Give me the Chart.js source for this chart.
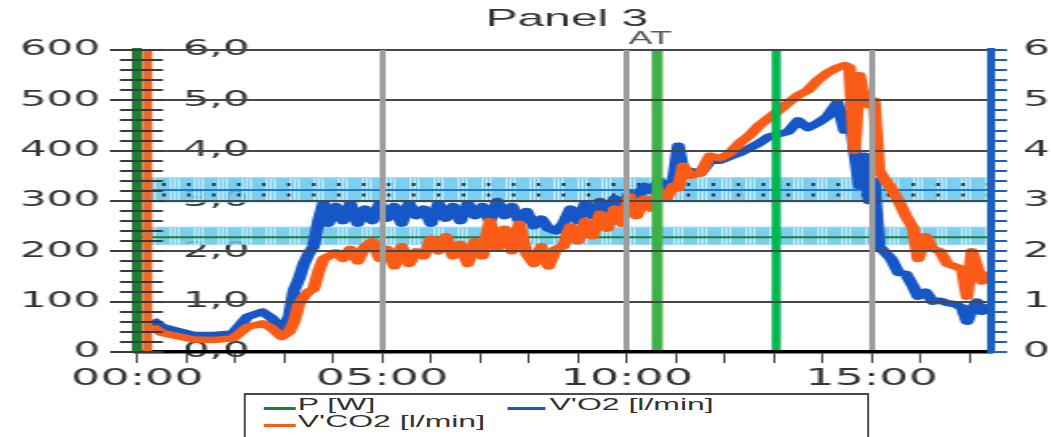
<!DOCTYPE html>
<html>
<head>
<meta charset="utf-8">
<script src="https://cdn.jsdelivr.net/npm/chart.js@4.4.1/dist/chart.umd.min.js"></script>
<style>
  body { margin: 0; background: #fff; overflow: hidden; }
  /* the whole panel is drawn at half width and stretched, like the original picture */
  #stage { position: relative; width: 526px; height: 437px; transform: scaleX(1.9981); transform-origin: 0 0; }
  #panel3 { display: block; }
  #legend { position: absolute; left: 121.5px; top: 393px; width: 313.5px; height: 60px; box-sizing: border-box;
            border: 2px solid #4a4a4a; border-left-width: 1px; border-right-width: 1px; background: #fff;
            font: 16px "Liberation Sans", Arial, sans-serif; color: #333; }
  .legend-text { position: absolute; white-space: nowrap; line-height: 16px; }
  .legend-swatch { position: absolute; height: 3px; }
</style>
</head>
<body>
<div id="stage">
  <canvas id="panel3" width="526" height="437"></canvas>
  <div id="legend"></div>
</div>
<script>
// Zeit in Minuten, Werte in l/min
const minutes = [
  0.3, 0.5, 0.9, 1.15, 1.55, 1.95, 2.25, 2.55, 2.75, 2.95, 3.1, 3.2, 3.3, 3.4, 3.5, 3.6, 3.7, 3.8,
  3.9, 4.05, 4.2, 4.35, 4.5, 4.65, 4.8, 4.95, 5.1, 5.25, 5.4, 5.55, 5.7, 5.85, 6.0, 6.15,
  6.3, 6.45, 6.6, 6.75, 6.9, 7.05, 7.2, 7.35, 7.5, 7.65, 7.8, 7.95, 8.1, 8.25, 8.4, 8.55,
  8.7, 8.85, 9.0, 9.15, 9.3, 9.45, 9.6, 9.75, 9.9, 10.05, 10.2, 10.35, 10.5, 10.65, 10.8, 10.95,
  11.05, 11.15, 11.3, 11.5, 11.7, 11.9, 12.1, 12.3, 12.5, 12.7, 12.9, 13.1, 13.3, 13.5, 13.7, 13.9,
  14.1, 14.3, 14.45, 14.55, 14.65, 14.75, 14.85, 14.95, 15.05, 15.15, 15.25, 15.4, 15.55, 15.7,
  15.85, 15.95, 16.1, 16.25, 16.4, 16.55, 16.7, 16.85, 16.95, 17.05, 17.15, 17.25, 17.35
]
const vo2 = [
  0.64, 0.5, 0.4, 0.34, 0.34, 0.37, 0.7, 0.8, 0.67, 0.44, 0.7, 1.23, 1.45, 1.75, 1.95, 2.1, 2.6, 2.95,
  2.55, 2.9, 2.6, 2.95, 2.55, 2.85, 2.6, 2.95, 2.65, 2.9, 2.55, 2.95, 2.7, 2.85, 2.55, 2.95,
  2.65, 2.9, 2.6, 2.95, 2.7, 2.9, 2.6, 3.0, 2.7, 2.9, 2.6, 2.8, 2.5, 2.65, 2.45, 2.4,
  2.55, 2.85, 2.6, 2.95, 2.7, 3.0, 2.8, 3.05, 2.85, 3.15, 3.0, 3.3, 3.2, 3.4, 3.3, 3.4,
  4.1, 3.6, 3.6, 3.55, 3.8, 3.8, 3.88, 3.95, 4.05, 4.15, 4.28, 4.33, 4.38, 4.6, 4.45, 4.55,
  4.68, 4.95, 4.4, 4.75, 4.0, 3.3, 3.9, 3.0, 3.4, 2.1, 2.0, 1.85, 1.57, 1.55,
  1.3, 1.1, 1.2, 1.0, 1.02, 0.97, 0.95, 0.88, 0.6, 0.85, 1.0, 0.8, 0.95
]
const vco2 = [
  0.5, 0.38, 0.3, 0.25, 0.24, 0.27, 0.5, 0.57, 0.47, 0.3, 0.4, 0.6, 0.95, 1.1, 1.2, 1.25, 1.6, 1.85,
  1.9, 1.98, 1.85, 2.05, 1.8, 2.1, 2.2, 1.85, 2.05, 1.7, 2.1, 1.75, 2.0, 1.9, 2.25, 2.0,
  2.3, 1.9, 2.15, 1.75, 2.2, 1.9, 2.6, 2.05, 2.45, 2.0, 2.55, 1.95, 1.75, 2.1, 1.7, 2.05,
  2.1, 2.5, 2.2, 2.6, 2.3, 2.75, 2.45, 2.85, 2.55, 3.1, 2.7, 3.05, 2.85, 3.2, 3.05, 3.3,
  3.25, 3.7, 3.5, 3.55, 3.9, 3.85, 3.95, 4.15, 4.3, 4.5, 4.65, 4.8, 4.95, 5.1, 5.2, 5.4,
  5.55, 5.65, 5.7, 5.65, 4.0, 5.5, 5.0, 4.9, 5.0, 3.6, 3.45, 3.25, 3.0, 2.7,
  2.45, 1.85, 2.3, 2.05, 2.0, 1.75, 1.7, 1.65, 1.1, 2.0, 1.7, 1.4, 1.6
]
const timeRange = [0, 17.42]
const atTime = 10.62
const loadEndTime = 13.05
const vo2Band = [2.98, 3.22, 3.46]    // unten, Ziel, oben (l/min)
const vo2BandDots = [3.12, 3.33]
const pBand = [214, 228, 248]         // unten, Ziel, oben (W)
const titleText = 'Panel 3'

const pColor = 'rgb(28,128,52)'
const vo2Color = 'rgb(22,86,198)'
const vco2Color = 'rgb(250,92,24)'
const vco2AxisColor = 'rgb(236,104,42)'
const vo2AxisColor = 'rgb(28,96,190)'
const labelFont = { family: 'DejaVu Sans', size: 21 }

const isWhole = v => Math.abs(v - Math.round(v)) < 1e-6

const makeBandPattern = () => {
    let tile = document.createElement('canvas')
    tile.width = 12
    tile.height = 4
    let t = tile.getContext('2d')
    t.fillStyle = 'rgba(100,198,236,0.85)'
    t.fillRect(0, 0, 12, 4)
    t.fillStyle = 'rgba(205,238,250,0.9)'
    ;[1, 3, 5].forEach(x => t.fillRect(x, 0, 1, 4))
    return t.createPattern(tile, 'repeat')
}
const bandPattern = makeBandPattern()

const flatLine = (axis, value, extra) => Object.assign({
    data: timeRange.map(t => ({ x: t, y: value })),
    yAxisID: axis, pointRadius: 0, borderWidth: 0, fill: false
}, extra)

const series = (values) => minutes.map((t, i) => ({ x: t, y: values[i] }))

const datasets = [
    flatLine('y', pBand[1], { label: 'P [W]', borderColor: pColor, borderWidth: 2, order: 3, inLegend: true }),
    { label: "V'O2 [l/min]", data: series(vo2), yAxisID: 'y3', borderColor: vo2Color, borderWidth: 6.5,
      pointRadius: 0, borderJoinStyle: 'round', order: 2, inLegend: true },
    { label: "V'CO2 [l/min]", data: series(vco2), yAxisID: 'y2', borderColor: vco2Color, borderWidth: 6.5,
      pointRadius: 0, borderJoinStyle: 'round', order: 1, inLegend: true },
    { data: [{ x: atTime, y: 0 }, { x: atTime, y: 6 }], yAxisID: 'y2', borderColor: 'rgb(62,176,72)',
      borderWidth: 5.5, pointRadius: 0, order: 0 },
    { data: [{ x: loadEndTime, y: 0 }, { x: loadEndTime, y: 6 }], yAxisID: 'y2', borderColor: 'rgb(0,182,78)',
      borderWidth: 4.5, pointRadius: 0, order: 0 },
    // Zielbereich V'O2
    flatLine('y3', vo2Band[2], { fill: '+1', backgroundColor: bandPattern, borderColor: 'rgb(140,212,242)', borderWidth: 1, order: 6 }),
    flatLine('y3', vo2Band[0], { borderColor: 'rgb(150,216,242)', borderWidth: 1, order: 6 }),
    flatLine('y3', vo2Band[1], { borderColor: 'rgb(30,120,205)', borderWidth: 2, order: 5 }),
    flatLine('y3', vo2BandDots[0], { borderColor: '#1d1d1d', borderWidth: 3, borderDash: [1.5, 11], order: 5 }),
    flatLine('y3', vo2BandDots[1], { borderColor: '#1d1d1d', borderWidth: 3, borderDash: [1.5, 11], order: 5 }),
    // Zielbereich P
    flatLine('y', pBand[2], { fill: '+1', backgroundColor: bandPattern, borderColor: 'rgb(150,216,242)', borderWidth: 1, order: 6 }),
    flatLine('y', pBand[0], { borderColor: 'rgb(150,216,242)', borderWidth: 1, order: 6 })
]

const strokeLine = (ctx, x0, y0, x1, y1) => {
    ctx.beginPath()
    ctx.moveTo(x0, y0)
    ctx.lineTo(x1, y1)
    ctx.stroke()
}

const panelDecor = {
    id: 'panelDecor',
    // horizontale Gitterlinien liegen über den Kurven
    afterDatasetsDraw(chart) {
        const { ctx, chartArea: area, scales } = chart
        const mid = scales.y2
        ctx.save()
        ctx.setLineDash([])
        ctx.strokeStyle = '#474747'
        ctx.lineWidth = 2
        mid.ticks.forEach(tick => {
            if (tick.value === 0) return
            let py = Math.round(mid.getPixelForValue(tick.value))
            strokeLine(ctx, area.left, py, area.right, py)
        })
        ctx.restore()
    },
    afterDraw(chart) {
        const { ctx, chartArea: area, scales } = chart
        const left = scales.y
        const right = scales.y3
        ctx.save()
        ctx.setLineDash([])
        // V'CO2-Achse direkt neben der P-Achse
        ctx.strokeStyle = vco2AxisColor
        ctx.lineWidth = 5
        strokeLine(ctx, area.left + 5, area.top, area.left + 5, area.bottom)
        // Striche der linken Achse laufen über beide Linien
        ctx.strokeStyle = '#3a3a3a'
        ctx.lineWidth = 2
        left.ticks.forEach(tick => {
            let py = Math.round(left.getPixelForValue(tick.value))
            let x0 = tick.value % 100 === 0 ? area.left - 13.75 : area.left - 8.75
            strokeLine(ctx, x0, py, area.left + 12.75, py)
        })
        // Striche der rechten V'O2-Achse
        ctx.strokeStyle = vo2AxisColor
        right.ticks.forEach(tick => {
            let py = Math.round(right.getPixelForValue(tick.value))
            strokeLine(ctx, area.right, py, area.right + 8.5, py)
        })
        ctx.textAlign = 'center'
        ctx.textBaseline = 'middle'
        ctx.fillStyle = '#333'
        ctx.font = '24px "Liberation Sans"'
        ctx.fillText(titleText, (area.left + area.right) / 2 + 1.5, 19)
        ctx.fillStyle = '#555'
        ctx.font = '18px "Liberation Sans"'
        ctx.fillText('AT', scales.x.getPixelForValue(atTime) - 3.5, area.top - 11)
        ctx.restore()
    }
}

const chart = new Chart(document.querySelector('#panel3'), {
    type: 'line',
    data: { datasets },
    plugins: [panelDecor],
    options: {
        responsive: false,
        devicePixelRatio: 1,
        animation: false,
        events: [],
        layout: { padding: { top: 50, left: 0, right: 0, bottom: 0 } },
        elements: { line: { tension: 0 } },
        plugins: { legend: { display: false }, tooltip: { enabled: false }, title: { display: false } },
        scales: {
            x: {
                type: 'linear', min: timeRange[0], max: timeRange[1],
                afterFit: s => { s.height = 85 },
                ticks: {
                    stepSize: 1, autoSkip: false, maxRotation: 0, includeBounds: false, padding: 2,
                    font: { family: 'DejaVu Sans', size: 23 }, color: '#333',
                    callback: v => v % 5 === 0 ? `${String(v).padStart(2, '0')}:00` : ''
                },
                grid: {
                    z: 1, lineWidth: 3, tickLength: 11, tickWidth: 1, tickColor: '#444',
                    color: c => (c.tick && c.tick.value % 5 === 0 && c.tick.value > 0) ? '#9d9d9d' : 'rgba(0,0,0,0)'
                },
                border: { color: '#000', width: 3.5, z: 1 }
            },
            y: {
                position: 'left', weight: 1, min: 0, max: 600,
                afterFit: s => { s.width = 68.75 },
                ticks: { stepSize: 20, autoSkip: false, padding: 18.75, font: labelFont, color: '#333',
                         callback: v => v % 100 === 0 ? String(v) : '' },
                grid: { drawOnChartArea: false, drawTicks: false },
                border: { color: pColor, width: 5, z: 1 }
            },
            y2: {
                position: 'left', weight: 0, min: 0, max: 6,
                afterFit: s => { s.width = 0 },
                ticks: { stepSize: 1, mirror: true, padding: 22.75, font: labelFont, color: '#333',
                         callback: v => v.toFixed(1).replace('.', ',') },
                grid: { display: false },
                border: { display: false }
            },
            y3: {
                position: 'right', min: 0, max: 6,
                afterFit: s => { s.width = 30.5 },
                ticks: { stepSize: 0.2, autoSkip: false, padding: 8.5, font: labelFont, color: '#333',
                         callback: v => isWhole(v) ? v.toFixed(1).replace('.', ',') : '' },
                grid: { display: false },
                border: { color: vo2AxisColor, width: 4, z: 1 }
            }
        }
    }
})

// Legende in zwei Spalten, wie im Original
const buildLegend = chart => {
    const box = document.querySelector('#legend')
    const swatchLeft = [9, 131.5]
    const swatchWidth = [16, 18.5]
    const textLeft = [26.5, 152.5]
    const rowCenter = [10, 27]
    chart.data.datasets.filter(ds => ds.inLegend).forEach((ds, i) => {
        let col = i % 2
        let row = Math.floor(i / 2)
        let swatch = document.createElement('div')
        swatch.className = 'legend-swatch'
        swatch.style.left = swatchLeft[col] + 'px'
        swatch.style.width = swatchWidth[col] + 'px'
        swatch.style.top = (rowCenter[row] + 1.5) + 'px'
        swatch.style.background = ds.borderColor
        let text = document.createElement('div')
        text.className = 'legend-text'
        text.style.left = textLeft[col] + 'px'
        text.style.top = (rowCenter[row] - 8) + 'px'
        text.innerText = ds.label
        box.append(swatch)
        box.append(text)
    })
}
buildLegend(chart)
</script>
</body>
</html>
